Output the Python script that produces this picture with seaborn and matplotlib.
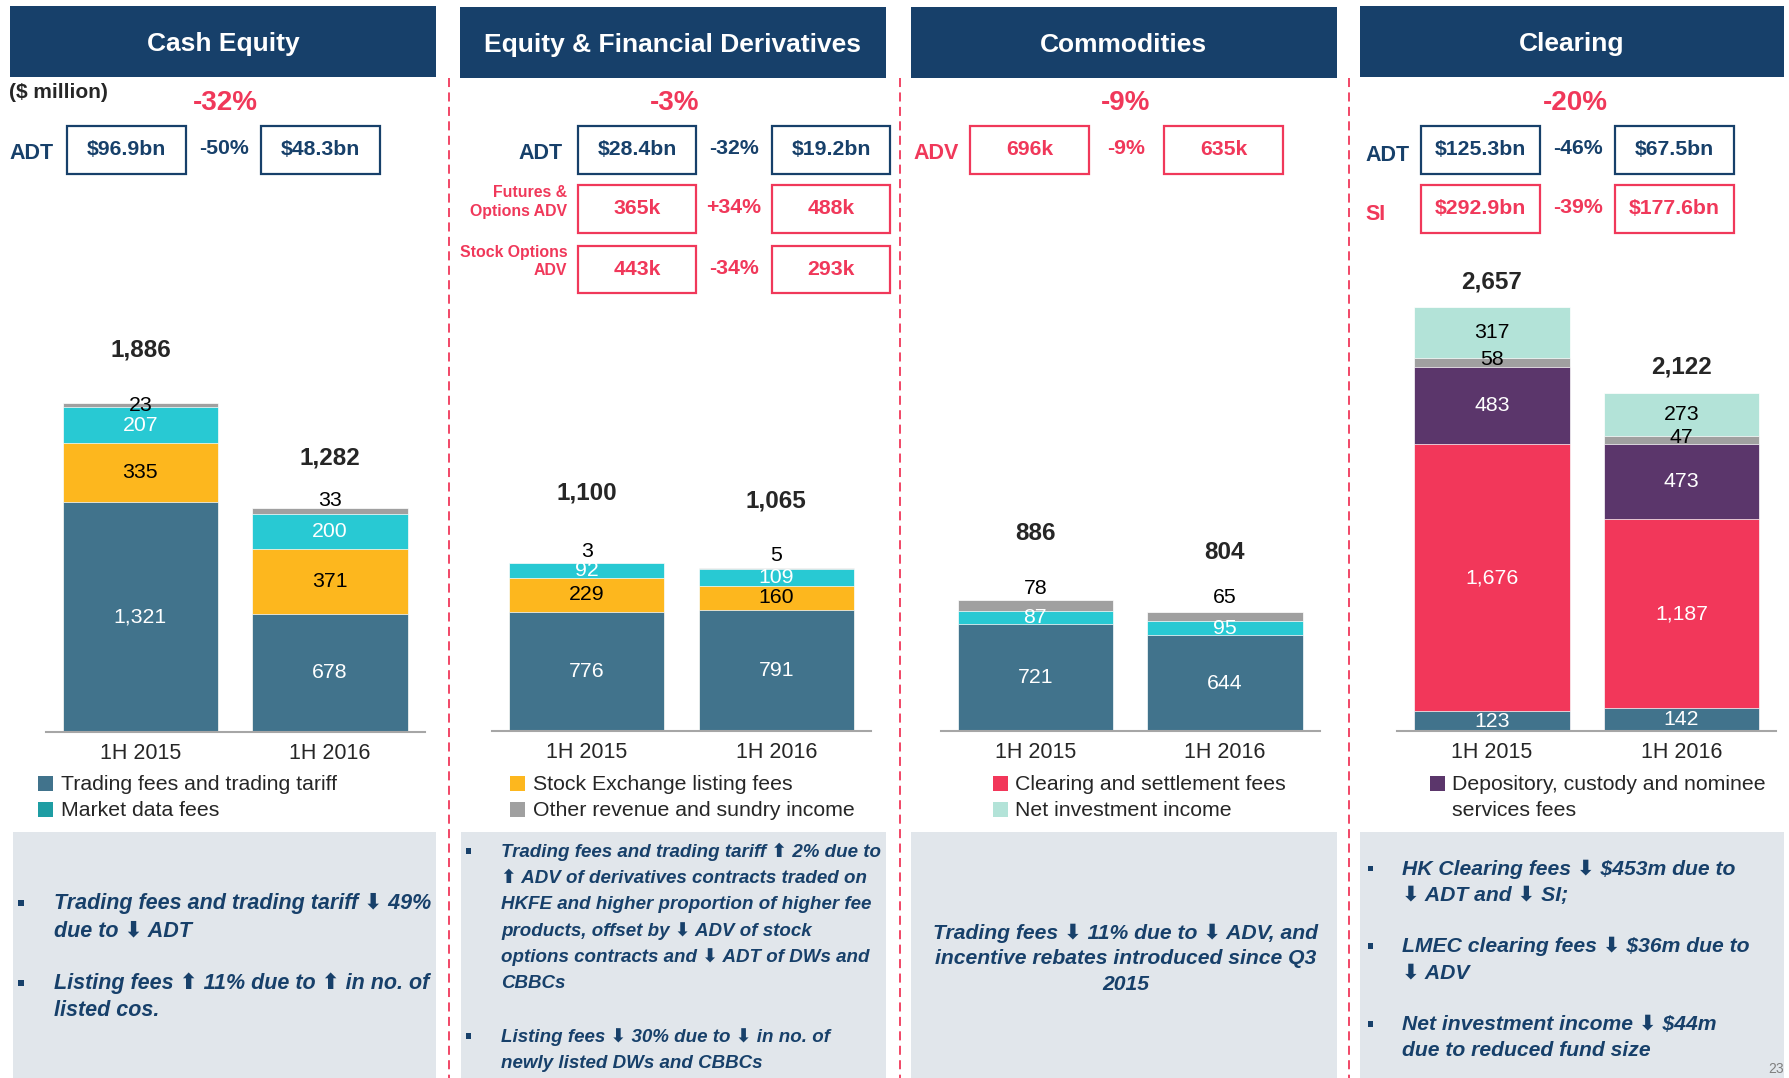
import numpy as np
import pandas as pd
import seaborn as sns
import matplotlib.pyplot as plt
from matplotlib.patches import Rectangle

sns.set_style('white')
plt.rcParams['font.family'] = ['Liberation Sans', 'DejaVu Sans']

# ---- data ----
periods = ['1H 2015', '1H 2016']

# Cash Equity
cash_trading = [1321, 678]
cash_listing = [335, 371]
cash_market_data = [207, 200]
cash_other = [23, 33]
cash_total = [1886, 1282]

# Equity & Financial Derivatives
deriv_trading = [776, 791]
deriv_listing = [229, 160]
deriv_market_data = [92, 109]
deriv_other = [3, 5]
deriv_total = [1100, 1065]

# Commodities
comm_trading = [721, 644]
comm_market_data = [87, 95]
comm_other = [78, 65]
comm_total = [886, 804]

# Clearing
clr_trading = [123, 142]
clr_settlement = [1676, 1187]
clr_depository = [483, 473]
clr_other = [58, 47]
clr_net_invest = [317, 273]
clr_total = [2657, 2122]

headers = ['Cash Equity', 'Equity & Financial Derivatives', 'Commodities', 'Clearing']
total_change = ['-32%', '-3%', '-9%', '-20%']

# KPI boxes: 1H 2015, 1H 2016, change
cash_adt = ['$96.9bn', '$48.3bn', '-50%']
deriv_adt = ['$28.4bn', '$19.2bn', '-32%']
deriv_fo_adv = ['365k', '488k', '+34%']
deriv_so_adv = ['443k', '293k', '-34%']
comm_adv = ['696k', '635k', '-9%']
clr_adt = ['$125.3bn', '$67.5bn', '-46%']
clr_si = ['$292.9bn', '$177.6bn', '-39%']

cash_notes = [['Trading fees and trading tariff ⬇ 49%', 'due to ⬇ ADT'],
              ['Listing fees ⬆ 11% due to ⬆ in no. of', 'listed cos.']]
deriv_notes = [['Trading fees and trading tariff ⬆ 2% due to',
                '⬆ ADV of derivatives contracts traded on',
                'HKFE and higher proportion of higher fee',
                'products, offset by ⬇ ADV of stock',
                'options contracts and ⬇ ADT of DWs and',
                'CBBCs'],
               ['Listing fees ⬇ 30% due to ⬇ in no. of',
                'newly listed DWs and CBBCs']]
comm_notes = ['Trading fees ⬇ 11% due to ⬇ ADV, and',
              'incentive rebates introduced since Q3',
              '2015']
clr_notes = [['HK Clearing fees ⬇ $453m due to', '⬇ ADT and ⬇ SI;'],
             ['LMEC clearing fees ⬇ $36m due to', '⬇ ADV'],
             ['Net investment income ⬇ $44m', 'due to reduced fund size']]

# ---- colours ----
NAVY = '#17406A'
RED = '#F0385A'
C_TRADING = '#41738C'
C_LISTING = '#FDB71E'
C_MARKET = '#28C9D3'
C_OTHER = '#A0A0A0'
C_SETTLE = '#F2375A'
C_DEPOS = '#5B366B'
C_NETINV = '#B3E3D8'
PANEL_BG = '#E1E6EB'

W, H = 1568, 944  # slide layout frame


def fx(x):
    return x / W


def fy(y):
    return 1 - y / H


PX = 1.1416 * 0.72  # layout px -> points

fig = plt.figure(figsize=(17.9, 10.78), dpi=100)
bg = fig.add_axes([0, 0, 1, 1])
bg.set_xlim(0, W)
bg.set_ylim(H, 0)
bg.axis('off')

# headers
header_boxes = [(9, 382, 5, 67), (403, 776, 6, 68), (798, 1171, 6, 68), (1191, 1563, 5, 67)]
for (x0, x1, y0, y1), title in zip(header_boxes, headers):
    bg.add_patch(Rectangle((x0, y0), x1 - x0, y1 - y0, color=NAVY, lw=0))
    bg.text((x0 + x1) / 2, (y0 + y1) / 2 + 2.5, title, color='white', fontsize=19,
            fontweight='bold', ha='center', va='center')

# comment panels
for (x0, x1) in [(11, 382), (404, 776), (798, 1171), (1191, 1563)]:
    bg.add_patch(Rectangle((x0, 729), x1 - x0, 944 - 729, color=PANEL_BG, lw=0))

# dashed separators
for x in [393, 788, 1182]:
    bg.plot([x, x], [68, 944], color=RED, lw=1.3, dashes=(5, 3))

# total change figures
for x, txt in zip([197, 591, 986, 1380], total_change):
    bg.text(x, 90, txt, color=RED, fontsize=20, fontweight='bold', ha='center', va='center')

bg.text(8, 81, '($ million)', fontsize=15, fontweight='bold', ha='left', va='center')


def kpi_row(vals, xa, xb, xp, y0, y1, col, pcol):
    for (a, b), v in zip([xa, xb], vals[:2]):
        bg.add_patch(Rectangle((a, y0), b - a, y1 - y0, fill=False, ec=col, lw=1.6))
        bg.text((a + b) / 2, (y0 + y1) / 2, v, color=col, fontsize=15.3,
                fontweight='bold', ha='center', va='center')
    bg.text(xp, (y0 + y1) / 2 - 1, vals[2], color=pcol, fontsize=15.3,
            fontweight='bold', ha='center', va='center')


bg.text(28, 134, 'ADT', color=NAVY, fontsize=15.5, fontweight='bold', ha='center', va='center')
kpi_row(cash_adt, (59, 163), (229, 333), 196, 110, 152, NAVY, NAVY)

bg.text(493, 134, 'ADT', color=NAVY, fontsize=15.5, fontweight='bold', ha='right', va='center')
kpi_row(deriv_adt, (506, 610), (676, 780), 643, 110, 152, NAVY, NAVY)
bg.text(497, 177, 'Futures &\nOptions ADV', color=RED, fontsize=11.4, fontweight='bold',
        ha='right', va='center', multialignment='right', linespacing=1.3)
kpi_row(deriv_fo_adv, (506, 610), (676, 780), 643, 162, 204, RED, RED)
bg.text(497, 229, 'Stock Options\nADV', color=RED, fontsize=11.4, fontweight='bold',
        ha='right', va='center', multialignment='right', linespacing=1.3)
kpi_row(deriv_so_adv, (506, 610), (676, 780), 643, 215, 257, RED, RED)

bg.text(800, 134, 'ADV', color=RED, fontsize=15.5, fontweight='bold', ha='left', va='center')
kpi_row(comm_adv, (850, 954), (1020, 1124), 986, 110, 152, RED, RED)

bg.text(1196, 136, 'ADT', color=NAVY, fontsize=15.5, fontweight='bold', ha='left', va='center')
kpi_row(clr_adt, (1245, 1349), (1415, 1519), 1382, 110, 152, NAVY, NAVY)
bg.text(1196, 188, 'SI', color=RED, fontsize=15.5, fontweight='bold', ha='left', va='center')
kpi_row(clr_si, (1245, 1349), (1415, 1519), 1382, 162, 204, RED, RED)

# ---- stacked bars ----
panels = [
    dict(series=[(cash_trading, C_TRADING, 'white', [0, 0]),
                 (cash_listing, C_LISTING, 'black', [0, 0]),
                 (cash_market_data, C_MARKET, 'white', [0, 0]),
                 (cash_other, C_OTHER, 'black', [0, -9.5])],
         total=cash_total, x0=123, base=641, ymax=2561, total_dy=[47, 44]),
    dict(series=[(deriv_trading, C_TRADING, 'white', [0, 0]),
                 (deriv_listing, C_LISTING, 'black', [0, 0]),
                 (deriv_market_data, C_MARKET, 'white', [0, 0]),
                 (deriv_other, C_OTHER, 'black', [-10, -12])],
         total=deriv_total, x0=514, base=640, ymax=2919, total_dy=[61, 59]),
    dict(series=[(comm_trading, C_TRADING, 'white', [0, 0]),
                 (comm_market_data, C_MARKET, 'white', [0, 0]),
                 (comm_other, C_OTHER, 'black', [-15, -17])],
         total=comm_total, x0=907, base=640, ymax=3005, total_dy=[58, 52]),
    dict(series=[(clr_trading, C_TRADING, 'white', [0, 0]),
                 (clr_settlement, C_SETTLE, 'white', [0, 0]),
                 (clr_depository, C_DEPOS, 'white', [0, 0]),
                 (clr_other, C_OTHER, 'black', [-3, -2.5]),
                 (clr_net_invest, C_NETINV, 'black', [0, 0])],
         total=clr_total, x0=1307, base=640, ymax=2794, total_dy=[22, 22]),
]

for p in panels:
    ax = fig.add_axes([fx(p['x0'] - 83), fy(p['base']), 332 / W, (p['base'] - 250) / H])
    ax.patch.set_alpha(0)
    vals = np.array([s[0] for s in p['series']])
    tops = np.cumsum(vals, axis=0)
    # draw cumulative layers from the top down so lower layers overlay
    for k in range(len(vals) - 1, -1, -1):
        df = pd.DataFrame({'period': periods, 'top': tops[k]})
        sns.barplot(data=df, x='period', y='top', color=p['series'][k][1], saturation=1,
                    width=0.82, errorbar=None, ax=ax, edgecolor='white', linewidth=0.5)
    for k, (v, c, tc, nudge) in enumerate(p['series']):
        for i in range(len(periods)):
            mid = tops[k][i] - v[i] / 2
            ax.annotate(f'{v[i]:,}', (i, mid), xytext=(0, -nudge[i] * PX),
                        textcoords='offset points', ha='center', va='center',
                        color=tc, fontsize=15.3)
    for i, t in enumerate(p['total']):
        ax.annotate(f'{t:,}', (i, t), xytext=(0, p['total_dy'][i] * PX),
                    textcoords='offset points', ha='center', va='center',
                    fontsize=17.5, fontweight='bold')
    ax.set_ylim(0, p['ymax'])
    ax.set_xlim(-0.5, 1.5)
    ax.set_xlabel('')
    ax.set_ylabel('')
    ax.set_yticks([])
    sns.despine(ax=ax, left=True)
    ax.spines['bottom'].set_color('#A6A6A6')
    ax.spines['bottom'].set_linewidth(1.5)
    ax.tick_params(axis='x', length=0, pad=8, labelsize=15.5)

# ---- legend pieces ----
legend_items = [
    (33, 53, [('Trading fees and trading tariff', C_TRADING), ('Market data fees', '#1E9DA3')]),
    (447, 467, [('Stock Exchange listing fees', C_LISTING), ('Other revenue and sundry income', C_OTHER)]),
    (870, 889, [('Clearing and settlement fees', C_SETTLE), ('Net investment income', C_NETINV)]),
    (1253, 1272, [('Depository, custody and nominee', C_DEPOS), ('services fees', None)]),
]
for sx, tx, items in legend_items:
    for j, (lab, col) in enumerate(items):
        y = 686 + 23 * j
        if col:
            bg.add_patch(Rectangle((sx, y - 6.5), 13, 13, color=col, lw=0))
        bg.text(tx, y + 1, lab, fontsize=15.3, ha='left', va='center')

# ---- commentary ----
note_kw = dict(color=NAVY, fontweight='bold', style='italic', va='center',
               family=['Liberation Sans', 'DejaVu Sans'])


def bullets(groups, xb, xt, starts, step, size):
    for lines, y0 in zip(groups, starts):
        bg.add_patch(Rectangle((xb, y0 - 3), 5, 5, color=NAVY, lw=0))
        for j, ln in enumerate(lines):
            bg.text(xt, y0 + step * j, ln, fontsize=size, ha='left', **note_kw)


bullets(cash_notes, 16, 47, [791, 861], 24, 15.5)
bullets(deriv_notes, 408, 439, [746, 908], 23, 13.5)
bullets(clr_notes, 1198, 1228, [761, 829, 897], 23, 15.2)
for j, ln in enumerate(comm_notes):
    bg.text(986, 817 + 22.5 * j, ln, fontsize=15.2, ha='center', **note_kw)

bg.text(1549, 936, '23', color='#7F7F7F', fontsize=10, ha='left', va='center')

fig.savefig('out.png', dpi=100)
